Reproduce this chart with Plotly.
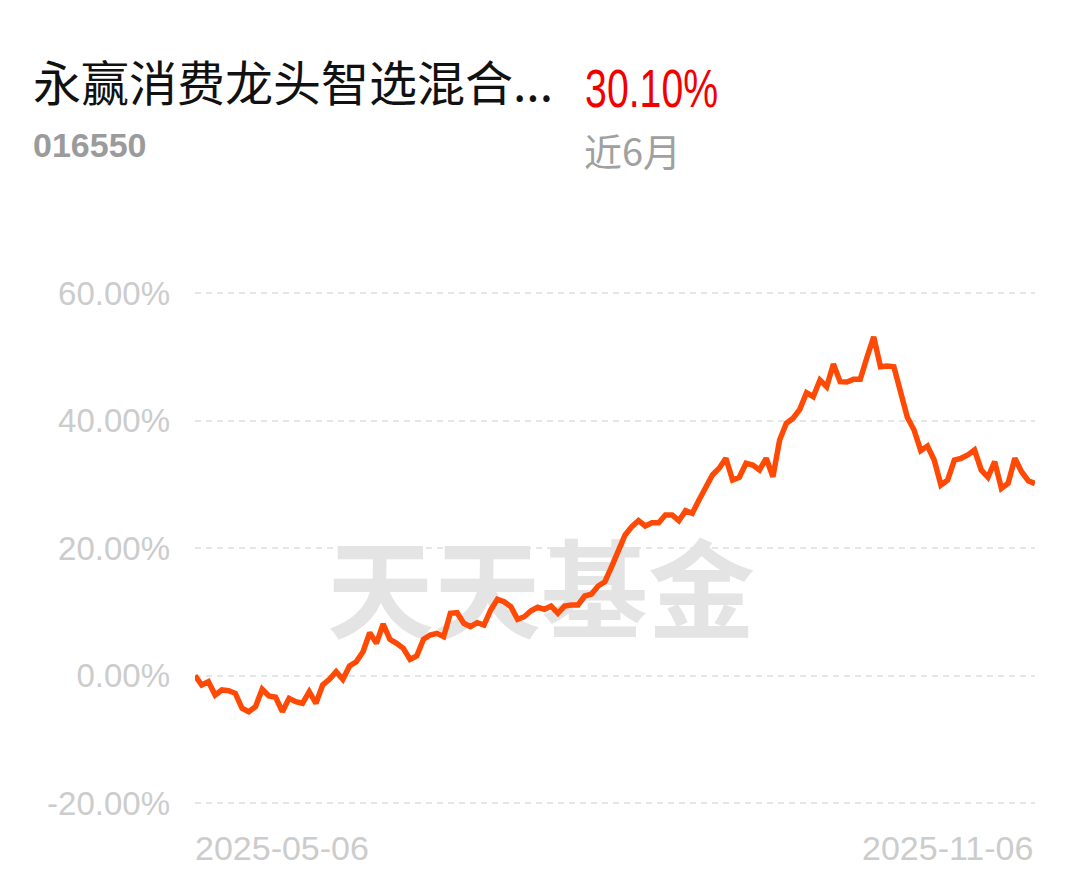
import pandas as pd
import plotly.graph_objects as go

# ---------------- data ----------------
holidays = ["2025-06-02", "2025-10-01", "2025-10-02", "2025-10-03",
            "2025-10-06", "2025-10-07", "2025-10-08"]
dates = [d.strftime("%Y-%m-%d") for d in pd.bdate_range("2025-05-06", "2025-11-06")
         if d.strftime("%Y-%m-%d") not in holidays]

returns = [
    0.0, -1.49, -0.97, -3.06, -2.27, -2.38, -2.79, -5.15, -5.68, -4.89, -2.16, -3.22,
    -3.42, -5.68, -3.58, -4.11, -4.36, -2.54, -4.36, -1.49, -0.60, 0.60,
    -0.60, 1.49, 2.16, 3.73, 6.71, 5.05, 8.08, 5.68, 5.05, 4.27, 2.54, 3.06,
    5.68, 6.35, 6.62, 6.09, 9.76, 9.85, 8.19, 7.65,
    8.28, 7.92, 10.27, 11.95, 11.58, 10.79, 8.82, 9.22, 10.16, 10.70, 10.38, 10.90,
    9.76, 10.90, 11.06, 11.06, 12.47, 12.78, 14.04, 14.71, 17.07, 19.42,
    22.04, 23.34, 24.28, 23.45, 23.97, 23.97, 25.18, 25.18, 24.28, 25.85, 25.44,
    27.53, 29.62, 31.45, 32.50, 34.07, 30.67, 31.09, 33.29, 33.02, 32.24,
    34.07, 31.18, 36.94, 39.56, 40.35, 41.76, 44.36, 43.73, 46.35, 45.30, 48.86,
    46.09, 46.04, 46.46, 46.46, 49.91, 53.14, 48.44, 48.55, 48.44,
    44.78, 40.50, 38.51, 35.26, 36.00, 33.80, 29.88, 30.67, 33.80, 34.07, 34.59,
    35.37, 32.24, 31.09, 33.54, 29.36, 30.15, 34.07, 31.97, 30.56, 30.10,
]
dates = dates[:len(returns)]

y_ticks = [-20, 0, 20, 40, 60]
y_tick_labels = ["-20.00%", "0.00%", "20.00%", "40.00%", "60.00%"]

fund_name = "永赢消费龙头智选混合..."
fund_code = "016550"
period_return = "30.10%"
period_label = "近6月"
watermark = "天天基金"

# ---------------- layout helpers ----------------
W, H = 1080, 881
L, R, T, B = 195, 45, 250, 61
PW, PH = W - L - R, H - T - B


def px(x):
    return (x - L) / PW


def py(y):
    return (H - B - y) / PH


fig = go.Figure()

# watermark on hidden base axes (drawn beneath the line)
fig.add_trace(go.Scatter(
    x=[px(541)], y=[py(603)], mode="text", text=[f"<b>{watermark}</b>"],
    textfont=dict(family="Noto Sans CJK SC", size=107, color="#e4e4e4"),
    xaxis="x", yaxis="y", hoverinfo="skip", showlegend=False,
))

fig.add_trace(go.Scatter(
    x=dates, y=returns, mode="lines",
    line=dict(color="#ff4a05", width=5.5),
    xaxis="x2", yaxis="y2", hoverinfo="skip", showlegend=False,
))

fig.update_layout(
    width=W, height=H,
    margin=dict(l=L, r=R, t=T, b=B),
    paper_bgcolor="white", plot_bgcolor="rgba(0,0,0,0)",
    showlegend=False,
    xaxis=dict(range=[0, 1], visible=False, fixedrange=True),
    yaxis=dict(range=[0, 1], visible=False, fixedrange=True),
    xaxis2=dict(type="category", overlaying="x", range=[0, len(returns) - 1],
                showgrid=False, showticklabels=False, zeroline=False, showline=False,
                ticks=""),
    yaxis2=dict(overlaying="y", side="left", range=[-22.667, 66.745],
                tickvals=y_ticks, ticktext=y_tick_labels,
                showgrid=True, gridcolor="#e6e6e6", gridwidth=2, griddash="6px,5px",
                zeroline=False, showline=False, ticks="",
                ticklabelstandoff=24,
                tickfont=dict(family="Liberation Sans, Arial, sans-serif", size=33,
                              color="#cccccc")),
)

ann = []
ann.append(dict(text=fund_name, xref="paper", yref="paper", x=px(31), y=py(80),
                xanchor="left", yanchor="middle", showarrow=False,
                font=dict(family="Noto Sans CJK SC", size=48, color="#111111")))
ann.append(dict(text=period_return, xref="paper", yref="paper", x=px(651), y=py(88),
                xanchor="center", yanchor="middle", showarrow=False,
                font=dict(family="Liberation Sans, Arial, sans-serif",
                          size=54, color="#f20000")))
ann.append(dict(text=f"<b>{fund_code}</b>", xref="paper", yref="paper", x=px(31), y=py(145),
                xanchor="left", yanchor="middle", showarrow=False,
                font=dict(family="Liberation Sans, Arial, sans-serif", size=34, color="#9b9b9b")))
ann.append(dict(text=period_label, xref="paper", yref="paper", x=px(582), y=py(150),
                xanchor="left", yanchor="middle", showarrow=False,
                font=dict(family="Noto Sans CJK SC", size=38, color="#a0a0a0")))
ann.append(dict(text=dates[0], xref="x2", yref="paper", x=dates[0], y=py(848),
                xanchor="left", yanchor="middle", showarrow=False, xshift=-2,
                font=dict(family="Liberation Sans, Arial, sans-serif", size=34, color="#cccccc")))
ann.append(dict(text=dates[-1], xref="x2", yref="paper", x=dates[-1], y=py(848),
                xanchor="right", yanchor="middle", showarrow=False, xshift=0,
                font=dict(family="Liberation Sans, Arial, sans-serif", size=34, color="#cccccc")))
fig.update_layout(annotations=ann)

# remove the page margin and condense the headline return figure
post = """
document.body.style.margin = '0';
var gd = document.getElementsByClassName('plotly-graph-div')[0];
function squeeze() {
  var els = gd.querySelectorAll('text.annotation-text');
  els.forEach(function (t) {
    if (t.textContent === '%s') {
      t.setAttribute('textLength', '133');
      t.setAttribute('lengthAdjust', 'spacingAndGlyphs');
    }
  });
}
squeeze();
gd.on('plotly_afterplot', squeeze);
""" % period_return

fig.write_html("out.html", post_script=post, config={"displayModeBar": False})
